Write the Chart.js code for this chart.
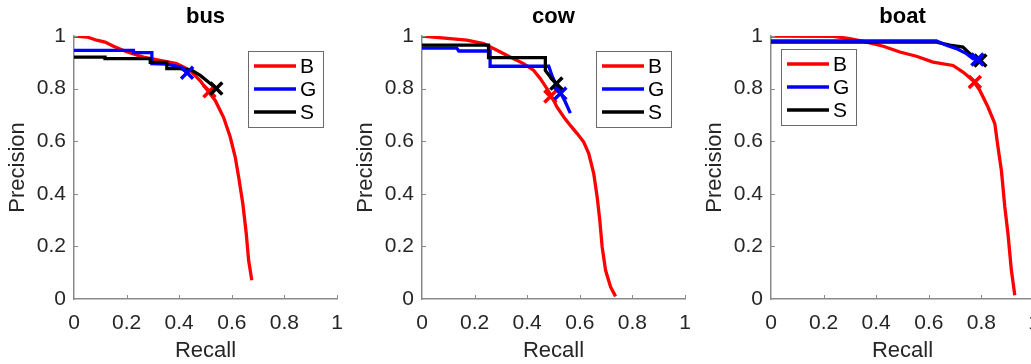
<!DOCTYPE html>
<html><head><meta charset="utf-8">
<script src="https://cdn.jsdelivr.net/npm/chart.js@4/dist/chart.umd.min.js"></script>
<style>
html,body{margin:0;padding:0;background:#fff;overflow:hidden;width:1031px;height:364px;position:relative;}
canvas{position:absolute;top:0;}
</style></head><body>
<canvas id="c1" width="344" height="364" style="left:0px"></canvas>
<canvas id="c2" width="344" height="364" style="left:348px"></canvas>
<canvas id="c3" width="344" height="364" style="left:697px"></canvas>
<script>
// ---- data ----
const ticksVals = [0, 0.2, 0.4, 0.6, 0.8, 1];
const seriesNames = ['B', 'G', 'S'];
const seriesColors = ['#ff0000', '#0000ff', '#000000'];

// bus
const busB_r = [0, 0.05, 0.086, 0.118, 0.15, 0.2, 0.264, 0.327, 0.39, 0.44, 0.48, 0.51, 0.537, 0.569, 0.594, 0.613, 0.626, 0.642, 0.655, 0.664, 0.676];
const busB_p = [1.0, 0.996, 0.984, 0.977, 0.961, 0.94, 0.92, 0.907, 0.895, 0.87, 0.83, 0.79, 0.755, 0.69, 0.616, 0.54, 0.464, 0.362, 0.248, 0.147, 0.071];
const busG_r = [0, 0.226, 0.226, 0.296, 0.296, 0.353, 0.404, 0.43];
const busG_p = [0.945, 0.945, 0.937, 0.937, 0.895, 0.893, 0.882, 0.86];
const busS_r = [0, 0.118, 0.118, 0.29, 0.29, 0.353, 0.353, 0.404, 0.448, 0.48, 0.511, 0.541];
const busS_p = [0.92, 0.92, 0.914, 0.914, 0.90, 0.90, 0.876, 0.876, 0.869, 0.85, 0.825, 0.80];
const busMark_r = [0.515, 0.43, 0.541];
const busMark_p = [0.79, 0.86, 0.80];

// cow
const cowB_r = [0, 0.043, 0.107, 0.17, 0.234, 0.285, 0.335, 0.386, 0.424, 0.45, 0.475, 0.494, 0.513, 0.539, 0.564, 0.59, 0.615, 0.634, 0.653, 0.666, 0.676, 0.685, 0.698, 0.717, 0.736];
const cowB_p = [1.0, 0.996, 0.99, 0.984, 0.971, 0.946, 0.92, 0.895, 0.87, 0.838, 0.8, 0.768, 0.73, 0.692, 0.66, 0.629, 0.597, 0.553, 0.477, 0.388, 0.3, 0.198, 0.109, 0.046, 0.01];
const cowG_r = [0, 0.132, 0.14, 0.259, 0.259, 0.482, 0.494, 0.513, 0.526, 0.545, 0.564];
const cowG_p = [0.954, 0.954, 0.943, 0.943, 0.885, 0.885, 0.85, 0.806, 0.787, 0.749, 0.707];
const cowS_r = [0, 0.253, 0.253, 0.469, 0.469, 0.488, 0.511];
const cowS_p = [0.965, 0.965, 0.918, 0.918, 0.869, 0.844, 0.819];
const cowMark_r = [0.488, 0.526, 0.511];
const cowMark_p = [0.77, 0.781, 0.819];

// boat
const boatB_r = [0, 0.237, 0.3, 0.363, 0.427, 0.49, 0.553, 0.616, 0.692, 0.73, 0.768, 0.794, 0.825, 0.851, 0.863, 0.876, 0.889, 0.901, 0.914, 0.927];
const boatB_p = [1.0, 0.999, 0.99, 0.977, 0.961, 0.939, 0.923, 0.901, 0.888, 0.863, 0.831, 0.793, 0.73, 0.667, 0.578, 0.489, 0.35, 0.248, 0.109, 0.014];
const boatG_r = [0, 0.629, 0.667, 0.705, 0.743, 0.768, 0.785];
const boatG_p = [0.981, 0.981, 0.965, 0.952, 0.933, 0.914, 0.911];
const boatS_r = [0, 0.629, 0.68, 0.73, 0.756, 0.796];
const boatS_p = [0.977, 0.977, 0.965, 0.958, 0.933, 0.907];
const boatMark_r = [0.775, 0.785, 0.796];
const boatMark_p = [0.825, 0.911, 0.907];

// ---- rendering ----
Chart.defaults.font.family = '"Liberation Sans", Arial, Helvetica, sans-serif';
const AXIS_COL = '#8a8a8a';
const TXT_COL = '#262626';

const pts = (r, p) => r.map((v, i) => ({x: v, y: p[i]}));
const fmt = v => (v === 0 ? '0' : v === 1 ? '1' : (+v).toFixed(1));

const boxLegend = {
  id: 'boxLegend',
  afterDraw(chart, args, opts) {
    const ctx = chart.ctx, a = chart.chartArea;
    const x0 = a.left + opts.x, y0 = a.top + opts.y, w = 75, h = 76;
    ctx.save();
    ctx.fillStyle = '#fff';
    ctx.fillRect(x0, y0, w, h);
    ctx.strokeStyle = '#6a6a6a';
    ctx.lineWidth = 1;
    ctx.strokeRect(x0 + 0.5, y0 + 0.5, w, h);
    const items = chart.data.datasets.filter(d => d.legendItem);
    items.forEach((d, i) => {
      const yy = y0 + 15 + i * 23;
      ctx.strokeStyle = d.borderColor;
      ctx.lineWidth = 3.3;
      ctx.beginPath();
      ctx.moveTo(x0 + 6, yy);
      ctx.lineTo(x0 + 48, yy);
      ctx.stroke();
      ctx.fillStyle = '#000';
      ctx.font = '21px "Liberation Sans", Arial, sans-serif';
      ctx.textBaseline = 'middle';
      ctx.textAlign = 'left';
      ctx.fillText(d.label, x0 + 52, yy + 1);
    });
    ctx.restore();
  }
};

const inTicks = {
  id: 'inTicks',
  afterDraw(chart) {
    const ctx = chart.ctx, xs = chart.scales.x, ys = chart.scales.y, a = chart.chartArea;
    ctx.save();
    ctx.strokeStyle = AXIS_COL;
    ctx.lineWidth = 1;
    ticksVals.forEach(v => {
      if (v === 0) return;
      const px = Math.round(xs.getPixelForValue(v)) + 0.5;
      ctx.beginPath(); ctx.moveTo(px, a.bottom); ctx.lineTo(px, a.bottom - 4); ctx.stroke();
      const py = Math.round(ys.getPixelForValue(v)) + 0.5;
      ctx.beginPath(); ctx.moveTo(a.left, py); ctx.lineTo(a.left + 4, py); ctx.stroke();
    });
    ctx.restore();
  }
};

function axis(titleText, isX) {
  return {
    type: 'linear', min: 0, max: 1,
    afterBuildTicks: s => { s.ticks = ticksVals.map(v => ({value: v})); },
    ticks: {font: {size: 21}, color: TXT_COL, padding: isX ? 11.5 : 8, maxRotation: 0, autoSkip: false, callback: fmt},
    grid: {display: false, drawTicks: false},
    border: {display: true, color: AXIS_COL, width: 1.5},
    title: {display: true, text: titleText, font: {size: 22}, color: TXT_COL,
            padding: isX ? {top: 0, bottom: 0} : {top: 5, bottom: 0}},
    afterFit: s => {
      if (isX) s.height = 65; else s.width = 74;
      s.paddingLeft = 0; s.paddingRight = 0; s.paddingTop = 0; s.paddingBottom = 0;
    }
  };
}

function makeChart(id, title, lines, mr, mp, legendPos, blueOnTop) {
  const datasets = [];
  const lineOrder = blueOnTop ? [3, 1, 2] : [3, 2, 1];
  lines.forEach((ln, i) => {
    datasets.push({
      type: 'line', label: seriesNames[i], legendItem: true,
      data: pts(ln[0], ln[1]), borderColor: seriesColors[i], backgroundColor: seriesColors[i],
      borderWidth: 3.3, pointRadius: 0, tension: 0, fill: false, order: lineOrder[i]
    });
  });
  const markOrder = blueOnTop ? [-1, -3, -2] : [-1, -2, -3];
  mr.forEach((v, i) => {
    datasets.push({
      type: 'scatter', label: seriesNames[i] + ' point',
      data: [{x: v, y: mp[i]}], borderColor: seriesColors[i], backgroundColor: seriesColors[i],
      pointStyle: 'crossRot', pointRadius: 8.5, borderWidth: 3.5, showLine: false, order: markOrder[i]
    });
  });
  return new Chart(document.getElementById(id), {
    type: 'line',
    data: {datasets},
    options: {
      responsive: false, animation: false,
      layout: {autoPadding: false, padding: {left: 0, right: 7, top: 0, bottom: 0}},
      scales: {x: axis('Recall', true), y: axis('Precision', false)},
      plugins: {
        legend: {display: false}, tooltip: {enabled: false},
        title: {display: true, text: title, fullSize: false, color: '#000',
                font: {size: 22, weight: 'bold'}, padding: {top: 4, bottom: 5.6}},
        boxLegend: legendPos
      }
    },
    plugins: [inTicks, boxLegend]
  });
}

makeChart('c1', 'bus', [[busB_r, busB_p], [busG_r, busG_p], [busS_r, busS_p]], busMark_r, busMark_p, {x: 174, y: 15}, false);
makeChart('c2', 'cow', [[cowB_r, cowB_p], [cowG_r, cowG_p], [cowS_r, cowS_p]], cowMark_r, cowMark_p, {x: 174, y: 15}, false);
makeChart('c3', 'boat', [[boatB_r, boatB_p], [boatG_r, boatG_p], [boatS_r, boatS_p]], boatMark_r, boatMark_p, {x: 10, y: 13}, true);
</script>
</body></html>
